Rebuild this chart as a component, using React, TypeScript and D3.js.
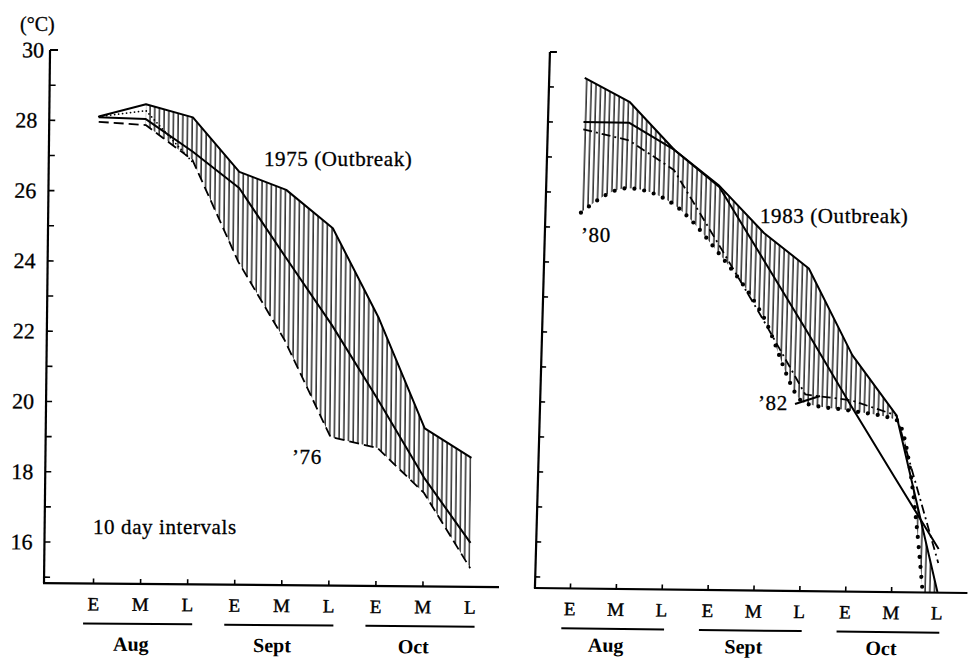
import React from 'react';
import * as d3 from 'd3';

// ten-day periods, Aug–Oct
const decads = ['E', 'M', 'L', 'E', 'M', 'L', 'E', 'M', 'L'];
const months = ['Aug', 'Sept', 'Oct'];
const yLabelValues = [30, 28, 26, 24, 22, 20, 18, 16];

// left panel: 1975 (outbreak) vs '76
const t1975 = [28.12, 28.48, 28.12, 26.58, 26.08, 25.0, 22.45, 19.33, 18.5];
const meanLeft = [28.1, 28.06, 27.15, 26.12, 24.17, 22.25, 20.13, 17.92, 16.08];
const t1976 = [27.97, 27.89, 26.91, 24.02, 21.81, 19.06, 18.76, 17.49, 15.36];
const dottedLeft = [28.12, 28.3, 26.85];

// right panel: 1983 (outbreak) vs '80 and '82
const t1983 = [29.27, 28.59, 27.24, 26.23, 24.9, 23.9, 21.44, 19.73, 14.7];
const meanRight = [28.01, 28.0, 27.24, 26.2, 24.15, 22.1, 20.0, 17.96, 15.93];
const t1980 = [25.42, 26.13, 25.7, 24.35, 22.6, 20.05, 19.85, 19.6, 10.5];
const t1982 = [27.8, 27.5, 26.67, 24.6, 22.5, 20.3, 20.15, 19.73, 15.53];

const FONT = '"Liberation Serif", "DejaVu Serif", serif';

type PanelCfg = {
  id: string;
  axisX: number;
  axisY: number;
  xEnd: number;
  yTop: number;     // pixel of 30 °C
  perDeg: number;
  x0: number;
  x8: number;
  b: number;        // slope of the scanned x axis
  c: number;        // lean of the scanned y axis
  px: number;
  py: number;
  tickLen: number;
  labels: boolean;
  lineOffset: [number, number];
  monthDy: number;
};

type Series = {
  values: number[];
  width: number;
  dash?: string;
  cap?: 'round' | 'butt';
  curve?: d3.CurveFactory;
};

type Hatch = {
  top: number[];
  bottom: number[];
  from: number;
  bottomCurve?: d3.CurveFactory;
};

const leftCfg: PanelCfg = {
  id: 'L', axisX: 47, axisY: 585, xEnd: 502, yTop: 52, perDeg: 35.14,
  x0: 96.5, x8: 473, b: 0.0088, c: -0.0113, px: 270, py: 320,
  tickLen: 6, labels: true, lineOffset: [-10, 5], monthDy: 67,
};

const rightCfg: PanelCfg = {
  id: 'R', axisX: 542.5, axisY: 590.4, xEnd: 975, yTop: 54.3, perDeg: 35,
  x0: 578, x8: 945, b: 0.0115, c: -0.028, px: 750, py: 320,
  tickLen: 5, labels: false, lineOffset: [-8, 3], monthDy: 63,
};

function Panel({ cfg, series, hatch }: { cfg: PanelCfg; series: Series[]; hatch: Hatch }) {
  const x = d3.scaleLinear().domain([0, 8]).range([cfg.x0, cfg.x8]);
  const y = d3.scaleLinear().domain([0, 30]).range([cfg.yTop + 30 * cfg.perDeg, cfg.yTop]);
  const yMinTick = Math.ceil(y.invert(cfg.axisY - 4));
  const degTicks = d3.range(yMinTick, 31);

  const e = -cfg.c * cfg.py;
  const f = -cfg.b * cfg.px;
  const transform = `matrix(1,${cfg.b},${cfg.c},1,${e},${f})`;

  const pts = (vals: number[], from = 0) =>
    vals.map((v, i) => [x(i), y(v)] as [number, number]).slice(from);

  const topPath = d3.line().curve(d3.curveLinear)(pts(hatch.top, hatch.from)) || '';
  const botPath =
    d3.line().curve(hatch.bottomCurve || d3.curveLinear)(pts(hatch.bottom, hatch.from).reverse()) || '';
  const hatchPath = topPath + 'L' + botPath.slice(1) + 'Z';

  const clipId = `clip${cfg.id}`;
  const patId = `hatch${cfg.id}`;

  return (
    <g transform={transform}>
      <defs>
        <clipPath id={clipId}>
          <rect x={cfg.axisX} y={0} width={cfg.xEnd - cfg.axisX} height={cfg.axisY} />
        </clipPath>
        <pattern id={patId} width={4.7} height={10} patternUnits="userSpaceOnUse">
          <line x1={2} x2={2} y1={0} y2={10} stroke="#000" strokeWidth={1.25} />
        </pattern>
      </defs>

      <g clipPath={`url(#${clipId})`}>
        <path d={hatchPath} fill={`url(#${patId})`} stroke="none" />
        {series.map((s, k) => (
          <path
            key={k}
            d={d3.line().curve(s.curve || d3.curveLinear)(pts(s.values)) || ''}
            fill="none"
            stroke="#000"
            strokeWidth={s.width}
            strokeDasharray={s.dash}
            strokeLinecap={s.cap || 'butt'}
            strokeLinejoin="round"
          />
        ))}
      </g>

      {/* y axis */}
      <line x1={cfg.axisX} x2={cfg.axisX} y1={y(30)} y2={cfg.axisY} stroke="#000" strokeWidth={2.2} />
      {degTicks.map((v) => (
        <line
          key={v}
          x1={cfg.axisX}
          x2={cfg.axisX + (v === 30 ? cfg.tickLen + 2 : cfg.tickLen)}
          y1={y(v)}
          y2={y(v)}
          stroke="#000"
          strokeWidth={v === 30 ? 2 : 1.6}
        />
      ))}
      {cfg.labels &&
        yLabelValues.map((v) => (
          <text
            key={v}
            x={cfg.axisX - (v === 30 ? 6 : 12)}
            y={y(v) + 7.5}
            textAnchor="end"
            fontSize={22}
            fontFamily={FONT}
            stroke="#000"
            strokeWidth={0.3}
          >
            {v}
          </text>
        ))}

      {/* x axis */}
      <line x1={cfg.axisX - 1} x2={cfg.xEnd} y1={cfg.axisY} y2={cfg.axisY} stroke="#000" strokeWidth={2.2} />
      {decads.slice(0, 8).map((_, i) => (
        <line key={i} x1={x(i)} x2={x(i)} y1={cfg.axisY} y2={cfg.axisY - 5} stroke="#000" strokeWidth={1.6} />
      ))}
      {decads.map((d, i) => (
        <text
          key={i}
          x={x(i)}
          y={cfg.axisY + 27}
          textAnchor="middle"
          fontSize={19}
          fontFamily={FONT}
          stroke="#000"
          strokeWidth={0.4}
        >
          {d}
        </text>
      ))}
      {months.map((m, k) => (
        <g key={m}>
          <line
            x1={x(3 * k) + cfg.lineOffset[0]}
            x2={x(3 * k + 2) + cfg.lineOffset[1]}
            y1={cfg.axisY + 40}
            y2={cfg.axisY + 40}
            stroke="#000"
            strokeWidth={2}
          />
          <text
            x={x(3 * k + 1) - 9}
            y={cfg.axisY + cfg.monthDy}
            textAnchor="middle"
            fontSize={20}
            fontWeight="bold"
            fontFamily={FONT}
          >
            {m}
          </text>
        </g>
      ))}
    </g>
  );
}

export default function App() {
  const leftSeries: Series[] = [
    { values: t1975, width: 2 },
    { values: meanLeft, width: 2 },
    { values: t1976, width: 1.8, dash: '10,5' },
    { values: dottedLeft, width: 1.8, dash: '0,4', cap: 'round' },
  ];
  const rightSeries: Series[] = [
    { values: t1983, width: 2 },
    { values: meanRight, width: 2 },
    { values: t1982, width: 1.8, dash: '9,4,2,4' },
    { values: t1980, width: 4.2, dash: '0,10', cap: 'round', curve: d3.curveMonotoneX },
  ];

  const txt = { fontFamily: FONT, fontSize: 21, letterSpacing: 0.6, stroke: '#000', strokeWidth: 0.3 } as const;

  return (
    <svg
      width={968}
      height={660}
      viewBox="0 0 968 660"
      style={{ position: 'absolute', left: 0, top: 0, background: '#fff' }}
    >
      <rect width={968} height={660} fill="#fff" />
      <Panel cfg={leftCfg} series={leftSeries} hatch={{ top: t1975, bottom: t1976, from: 1 }} />
      <Panel
        cfg={rightCfg}
        series={rightSeries}
        hatch={{ top: t1983, bottom: t1980, from: 0, bottomCurve: d3.curveMonotoneX }}
      />

      <text x={20} y={31} {...txt} fontSize={20} letterSpacing={0}>(°C)</text>
      <text x={264} y={166} {...txt}>1975 (Outbreak)</text>
      <text x={292} y={464} {...txt}>’76</text>
      <text x={93} y={534} {...txt}>10 day intervals</text>
      <text x={760} y={223} {...txt}>1983 (Outbreak)</text>
      <text x={581} y={242} {...txt}>’80</text>
      <text x={758} y={410} {...txt}>’82</text>
      <path d="M795,404 L820,396" stroke="#000" strokeWidth={2} fill="none" />
    </svg>
  );
}
